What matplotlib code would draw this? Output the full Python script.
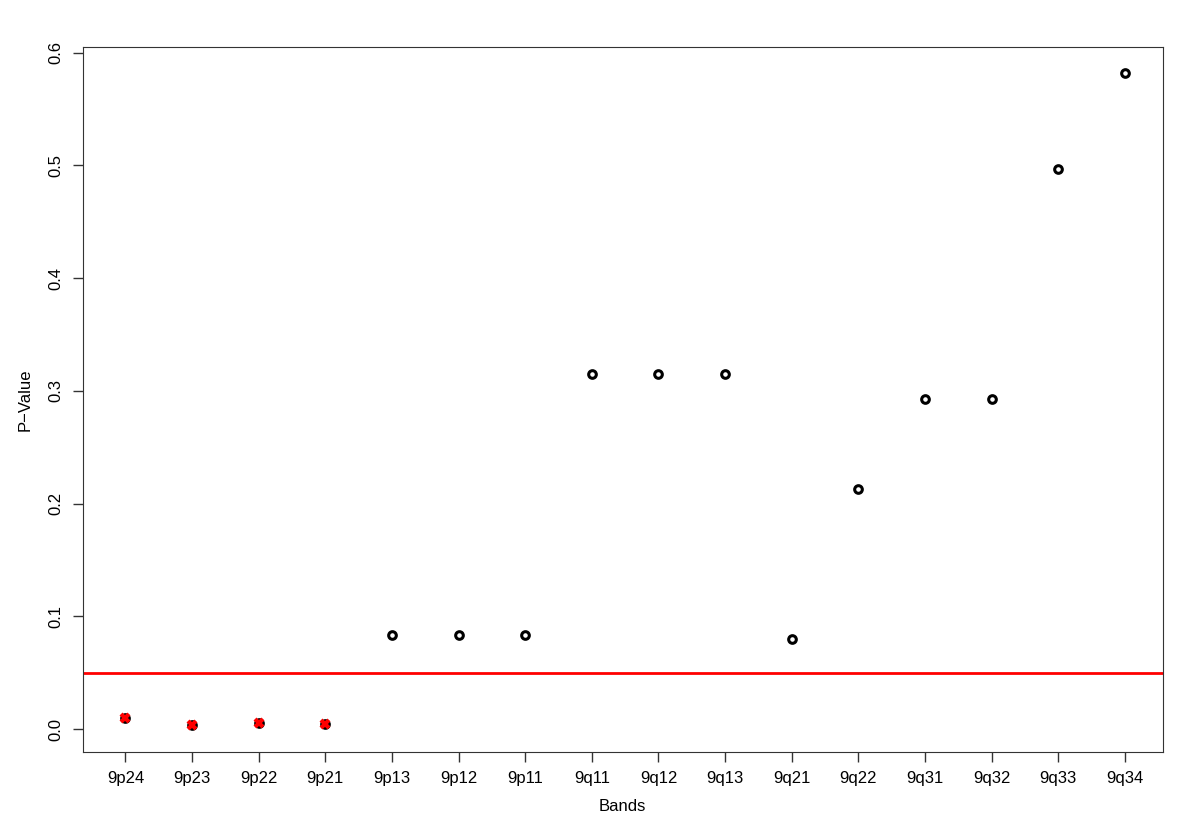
import matplotlib
matplotlib.use('Agg')
import matplotlib.pyplot as plt

plt.rcParams['font.family'] = ['Liberation Sans', 'DejaVu Sans']

# Dados
bands = ['9p24', '9p23', '9p22', '9p21', '9p13', '9p12', '9p11', '9q11',
         '9q12', '9q13', '9q21', '9q22', '9q31', '9q32', '9q33', '9q34']
pvalues = [0.0098, 0.0035, 0.005, 0.0045, 0.083, 0.083, 0.083, 0.315,
           0.315, 0.315, 0.080, 0.213, 0.293, 0.293, 0.497, 0.582]
threshold = 0.05

x = list(range(1, len(bands) + 1))
sig_x = [xi for xi, p in zip(x, pvalues) if p < threshold]
sig_p = [p for p in pvalues if p < threshold]

fig = plt.figure(figsize=(12, 8.13), dpi=100)
ax = fig.add_axes([0.069, 0.075, 0.9, 0.867])

ax.plot(x, pvalues, 'o', mfc='none', mec='black', ms=5.5, mew=2.2)
ax.plot(sig_x, sig_p, 'x', color='red', ms=6, mew=3)
ax.axhline(threshold, color='red', lw=2)

ax.set_xlim(0.36, 16.57)
ax.set_ylim(-0.0204, 0.605)
ax.set_xticks(x)
ax.set_xticklabels(bands)
ax.set_yticks([0.0, 0.1, 0.2, 0.3, 0.4, 0.5, 0.6])
ax.set_yticklabels(['0.0', '0.1', '0.2', '0.3', '0.4', '0.5', '0.6'],
                   rotation=90, va='center')
ax.tick_params(labelsize=12, length=7, width=1, color='#333333', pad=7)
for s in ax.spines.values():
    s.set_color('#333333')
ax.set_xlabel('Bands', fontsize=12, labelpad=9)
ax.set_ylabel('P\u2212Value', fontsize=12, labelpad=11)

fig.savefig('out.png')
